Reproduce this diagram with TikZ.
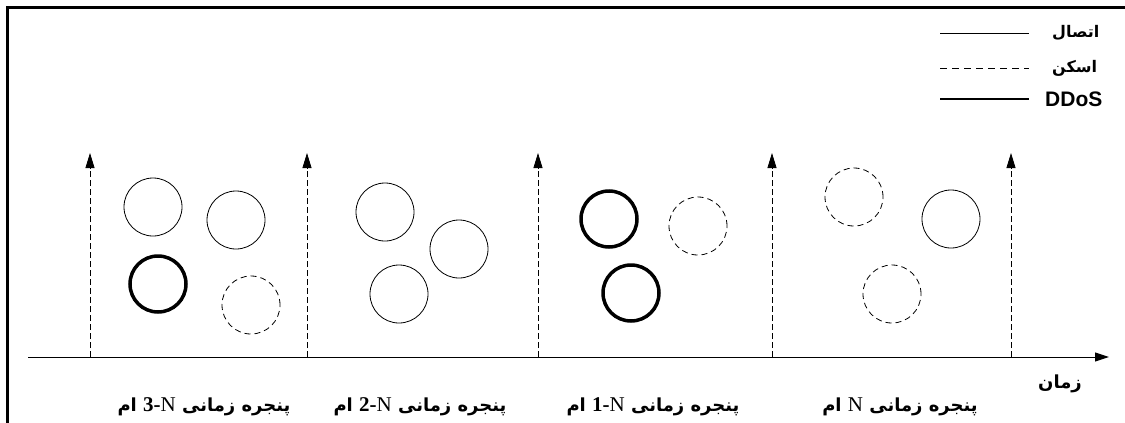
\documentclass[tikz,border=0pt]{standalone}
\usepackage{fontspec}
\setmainfont{Liberation Serif}
\newfontfamily\farsi[Script=Arabic]{DejaVu Sans}
\newfontfamily\latinsans{Liberation Sans}
\newfontfamily\latinserif{Liberation Serif}
\TeXXeTstate=1
\usetikzlibrary{arrows.meta,positioning}

\begin{document}
\begin{tikzpicture}[x=1pt, y=-1pt, every node/.style={inner sep=0pt},
  conn/.style={draw,circle,minimum size=58pt,line width=0.8pt},
  scan/.style={conn,dash pattern=on 6pt off 4pt},
  ddos/.style={conn,line width=3.5pt,minimum size=56pt},
  tick/.style={line width=0.8pt,dash pattern=on 6pt off 3pt,-{Triangle[length=15pt,width=9pt]}},
  win/.style={font=\farsi\bfseries\fontsize{18}{21}\selectfont},
  legtxt/.style={font=\farsi\bfseries\fontsize{16}{19}\selectfont,anchor=west},
  node distance=23pt]
  \useasboundingbox (0,0) rectangle (1125,423);
  % frame
  \draw[line width=3pt] (7,423) -- (7,7) -- (1125,7);

  % legend
  \coordinate (l1a) at (940,33);  \coordinate (l1b) at (1029,33);
  \coordinate (l2a) at (940,68);  \coordinate (l2b) at (1029,68);
  \coordinate (l3a) at (940,99);  \coordinate (l3b) at (1029,99);
  \draw[line width=0.8pt] (l1a) -- (l1b);
  \draw[line width=0.8pt,dash pattern=on 7pt off 5pt] (l2a) -- (l2b);
  \draw[line width=2.5pt] (l3a) -- (l3b);
  \node[legtxt] (k1) [right=of l1b] {\beginR اتصال\endR};
  \node[legtxt] (k2) [right=of l2b] {\beginR اسکن\endR};
  \node[font=\latinsans\bfseries\fontsize{21}{24}\selectfont,anchor=west] (k3) [right=16pt of l3b] {DDoS};

  % time axis and window borders
  \coordinate (ax0) at (28,357);
  \coordinate (ax1) at (1109,357);
  \draw[line width=1pt,-{Triangle[length=14pt,width=9pt]}] (ax0) -- (ax1);
  \foreach \i/\x in {1/90,2/307,3/538,4/772,5/1011} {
    \coordinate (t\i) at (\x,357);
    \coordinate (u\i) at (\x,153);
    \draw[tick] (t\i) -- (u\i);
  }

  % window N-3
  \node[conn] (c1a) at (153,207) {};
  \node[conn] (c1b) at (236,220) {};
  \node[ddos] (c1c) at (158,284) {};
  \node[scan] (c1d) at (251,305) {};
  % window N-2
  \node[conn] (c2a) at (385,212) {};
  \node[conn] (c2b) at (459,249) {};
  \node[conn] (c2c) at (399,294) {};
  % window N-1
  \node[ddos] (c3a) at (609,219) {};
  \node[scan] (c3b) at (698,226) {};
  \node[ddos] (c3c) at (631,293) {};
  % window N
  \node[scan] (c4a) at (854,197) {};
  \node[conn] (c4b) at (951,219) {};
  \node[scan] (c4c) at (892,294) {};

  % window labels
  \node[win] (w1) at (204,407) {\beginR پنجره زمانی \beginL{\latinserif\fontsize{21}{21}\selectfont 3-{\mdseries N}}\endL{} ام\endR};
  \node[win] (w2) at (420,407) {\beginR پنجره زمانی \beginL{\latinserif\fontsize{21}{21}\selectfont 2-{\mdseries N}}\endL{} ام\endR};
  \node[win] (w3) at (653,407) {\beginR پنجره زمانی \beginL{\latinserif\fontsize{21}{21}\selectfont 1-{\mdseries N}}\endL{} ام\endR};
  \node[win] (w4) at (900,407) {\beginR پنجره زمانی \beginL{\latinserif\mdseries\fontsize{21}{21}\selectfont N}\endL{} ام\endR};
  \node[win] (tm) at (1060,384) {\beginR زمان\endR};
\end{tikzpicture}
\end{document}
